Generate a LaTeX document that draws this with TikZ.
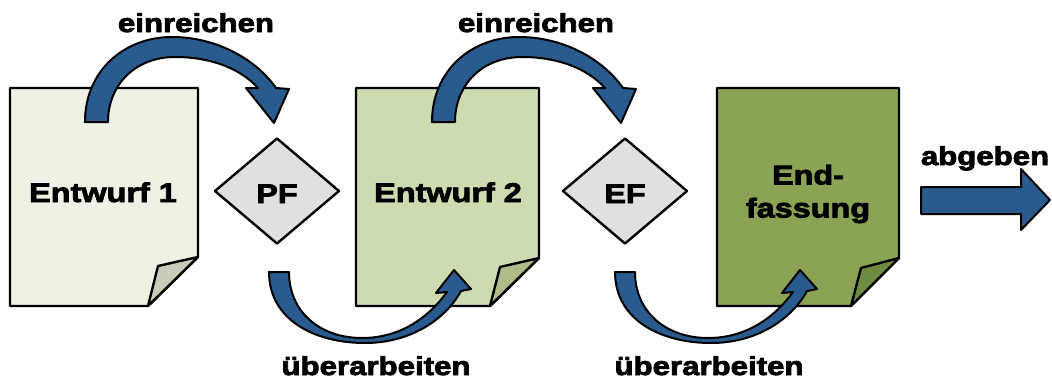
\documentclass[tikz,border=0pt]{standalone}
\usepackage{fontspec}
\setmainfont{Liberation Sans}
\newfontfamily\heavyfont{Liberation Sans Bold}[FakeStretch=1.2,FakeBold=3]
\usetikzlibrary{shapes.geometric}

\definecolor{paperA}{HTML}{EEF2E4}
\definecolor{flapA}{HTML}{C8CCB8}
\definecolor{paperB}{HTML}{CDDCB0}
\definecolor{flapB}{HTML}{AEBC8C}
\definecolor{paperC}{HTML}{8AA354}
\definecolor{flapC}{HTML}{6F8A41}
\definecolor{gate}{HTML}{E0E0E0}
\definecolor{flow}{HTML}{2A5B8E}

\tikzset{
  outline/.style={draw=black, line width=2.4pt, line join=round},
  paper/.style={outline},
  flowarrow/.style={outline, line width=2pt, fill=flow},
  gatebox/.style={shape=diamond, outline, fill=gate, minimum width=125pt,
    minimum height=106pt, inner sep=0pt},
  doclabel/.style={font=\heavyfont\fontsize{27}{33}\selectfont, align=center, inner sep=0pt},
  steplabel/.style={font=\heavyfont\fontsize{26}{30}\selectfont, inner sep=0pt, anchor=base},
}

\begin{document}
\begin{tikzpicture}[x=1pt, y=-1pt]
\useasboundingbox (0,0) rectangle (1052,383);

% documents with folded corner
\draw[paper, fill=paperA] (10,88) -- (198,88) -- (198,257) -- (148,306) -- (10,306) -- cycle;
\draw[paper, fill=flapA] (148,306) -- (158,266) -- (198,257) -- cycle;
\draw[paper, fill=paperB] (356,88) -- (539,88) -- (539,258) -- (490,306) -- (356,306) -- cycle;
\draw[paper, fill=flapB] (490,306) -- (500,267) -- (539,258) -- cycle;
\draw[paper, fill=paperC] (717,88) -- (899,88) -- (899,258) -- (851,306) -- (717,306) -- cycle;
\draw[paper, fill=flapC] (851,306) -- (861,268) -- (899,258) -- cycle;

\node[doclabel, anchor=base] (d1) at (103,202) {Entwurf 1};
\node[doclabel, anchor=base] (d2) at (448,202) {Entwurf 2};
\node[doclabel] (d3) at (808,194) {End-\\fassung};

% review gates
\node[gatebox] (pf) at (277,191) {};
\node[doclabel, anchor=base] (pft) at (277,203) {PF};
\node[gatebox] (ef) at (625,191) {};
\node[doclabel, anchor=base] (eft) at (625,203) {EF};

% "einreichen" arcs
\foreach \dx in {0,347} {
  \begin{scope}[shift={(\dx,0)}]
  \draw[flowarrow] (85,122) .. controls (85,70) and (125,37) .. (172,37)
     .. controls (215,37) and (255,58) .. (276,88)
     -- (289,89) -- (274,123) -- (246,88) -- (258,88)
     .. controls (240,68) and (210,57) .. (175,57)
     .. controls (135,57) and (108,85) .. (108,122) -- cycle;
  \end{scope}
}

% "überarbeiten" arcs
\foreach \dx in {0,346} {
  \begin{scope}[shift={(\dx,0)}]
  \draw[flowarrow] (269,272) .. controls (269,320) and (315,343) .. (365,343)
     .. controls (410,343) and (445,320) .. (461,291)
     -- (471,289) -- (454,270) -- (436,293) -- (447,292)
     .. controls (428,318) and (400,338) .. (362,338)
     .. controls (320,338) and (289,312) .. (289,272) -- cycle;
  \end{scope}
}

% hand-in arrow
\draw[flowarrow] (921,187) -- (1021,187) -- (1021,169) -- (1050,200)
   -- (1021,230) -- (1021,214) -- (921,214) -- cycle;

% step labels
\node[steplabel] (e1) at (196,32) {einreichen};
\node[steplabel] (e2) at (536,32) {einreichen};
\node[steplabel] (u1) at (376,375) {überarbeiten};
\node[steplabel] (u2) at (709,375) {überarbeiten};
\node[steplabel] (ab) at (985,165) {abgeben};
\end{tikzpicture}
\end{document}
